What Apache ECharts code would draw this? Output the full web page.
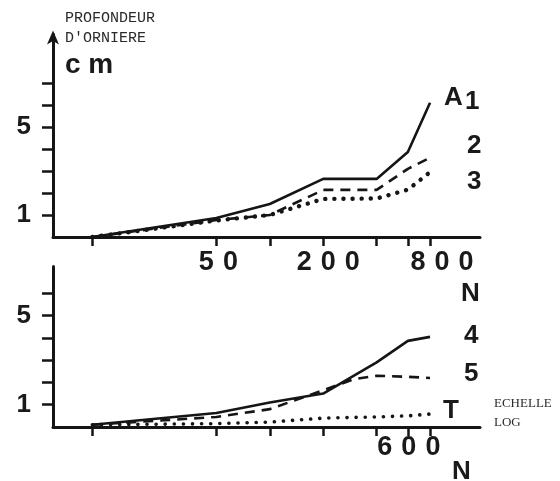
<!DOCTYPE html>
<html>
<head>
<meta charset="utf-8">
<script src="https://cdn.jsdelivr.net/npm/echarts@6/dist/echarts.min.js"></script>
<style>
html,body{margin:0;padding:0;background:#fff;}
#c{width:560px;height:481px;}
</style>
</head>
<body>
<div id="c"></div>
<script>
// ---- data ----
var nTop = [10, 50, 100, 200, 400, 600, 800];
var serieA1 = [0, 0.86, 1.5, 2.64, 2.64, 3.86, 6.1];
var serie2 = [0, 0.77, 1.0, 2.14, 2.14, 3.1, 3.6];
var serie3 = [0, 0.75, 1.0, 1.73, 1.75, 2.15, 2.95];

var nBot4 = [10, 50, 100, 200, 400, 600, 800];
var serie4 = [0.1, 0.63, 1.1, 1.5, 2.9, 3.86, 4.04];
var nBot5 = [10, 50, 100, 200, 300, 400, 600, 800];
var serie5 = [0.1, 0.45, 0.8, 1.65, 2.15, 2.3, 2.25, 2.2];
var nBotT = [10, 50, 100, 200, 400, 600, 800];
var serieT = [0.1, 0.15, 0.22, 0.4, 0.45, 0.5, 0.58];

var topXLabels = [50, 200, 800];
var botXLabels = [600];
var xTicks = [10, 50, 100, 200, 400, 600, 800];
var topYTicks = [1, 2, 3, 4, 5, 6, 7];
var botYTicks = [1, 2, 3, 4, 5, 6];
var yLabels = [1, 5];

function pairs(xs, ys) { return xs.map(function (x, i) { return [x, ys[i]]; }); }

var INK = '#151515';
var numFont = { fontFamily: 'Liberation Sans', fontWeight: 'bold', fontSize: 27, color: '#1a1a1a' };
var SP = '\u2004';

function xAxisDef(gridIndex, labels, margin) {
  return {
    type: 'log', gridIndex: gridIndex, min: 6, max: 1530,
    axisLine: { show: true, onZero: false, lineStyle: { color: INK, width: 3 } },
    axisTick: { show: true, customValues: xTicks, length: 9, lineStyle: { color: INK, width: 2.5 } },
    axisLabel: {
      show: true, customValues: labels, margin: margin,
      formatter: function (v) {
        var k = v < 100 ? 'a' : (v < 500 ? 'b' : (v === 600 ? 'd' : 'c'));
        return '{' + k + '|' + String(v).split('').join(SP) + '}';
      },
      rich: {
        a: Object.assign({ padding: [0, 0, 0, 4] }, numFont),
        b: Object.assign({ padding: [0, 0, 0, 10] }, numFont),
        c: Object.assign({ padding: [0, 0, 0, 24] }, numFont),
        d: Object.assign({ padding: [0, 0, 0, 2] }, numFont)
      }
    },
    splitLine: { show: false }
  };
}
function yAxisDef(gridIndex, max, ticks, arrow) {
  return {
    type: 'value', gridIndex: gridIndex, min: 0, max: max,
    axisLine: { show: true, lineStyle: { color: INK, width: 3 },
      symbol: arrow ? ['none', 'arrow'] : ['none', 'none'], symbolSize: [9, 14], symbolOffset: [0, 4] },
    axisTick: { show: true, customValues: ticks, length: 11, lineStyle: { color: INK, width: 2.5 } },
    axisLabel: Object.assign({ show: true, customValues: yLabels, margin: 22 }, numFont, { fontSize: 26 }),
    splitLine: { show: false }
  };
}

var solid = { color: INK, width: 2.6, type: 'solid' };
var dashed = { color: INK, width: 2.6, type: [10, 7] };
var dotted = { color: INK, width: 4.4, type: [0.1, 9], cap: 'round' };
var dottedSmall = { color: INK, width: 3.6, type: [0.1, 9], cap: 'round' };

function lineSeries(name, xi, data, style) {
  return { name: name, type: 'line', xAxisIndex: xi, yAxisIndex: xi, data: data,
    showSymbol: false, lineStyle: style, silent: true, animation: false };
}

var T = function (txt, x, y, style) {
  return { type: 'text', left: x, top: y, style: Object.assign({ text: txt, fill: '#1a1a1a' }, style) };
};
var big = { font: 'bold 26px "Liberation Sans"' };
var serif = { font: '15px "Liberation Mono"', fill: '#2a2a2a' };
var serifSm = { font: '13px "Liberation Serif"', fill: '#2a2a2a' };

var chart = echarts.init(document.getElementById('c'), null, { renderer: 'canvas' });
chart.setOption({
  backgroundColor: '#ffffff',
  animation: false,
  grid: [
    { left: 53, right: 80, top: 34.6, bottom: 244 },
    { left: 53, right: 80, top: 266.4, bottom: 54 }
  ],
  xAxis: [xAxisDef(0, topXLabels, 12), xAxisDef(1, botXLabels, 7)],
  yAxis: [yAxisDef(0, 9.2, topYTicks, true), yAxisDef(1, 7.2, botYTicks, false)],
  series: [
    lineSeries('A1', 0, pairs(nTop, serieA1), solid),
    lineSeries('2', 0, pairs(nTop, serie2), dashed),
    lineSeries('3', 0, pairs(nTop, serie3), dotted),
    lineSeries('4', 1, pairs(nBot4, serie4), solid),
    lineSeries('5', 1, pairs(nBot5, serie5), dashed),
    lineSeries('T', 1, pairs(nBotT, serieT), dottedSmall)
  ],
  graphic: [
    T('PROFONDEUR', 65, 11, serif),
    T("D'ORNIERE", 65, 31, serif),
    T('c m', 65, 51, { font: 'bold 28px "Liberation Sans"' }),
    T('A', 444, 85, big),
    T('1', 465, 89, big),
    T('2', 467, 133, big),
    T('3', 467, 169, big),
    T('N', 461, 281, big),
    T('4', 464, 323, big),
    T('5', 464, 361, big),
    T('T', 443, 398, big),
    T('N', 452, 459, big),
    T('ECHELLE', 494, 397, serifSm),
    T('LOG', 494, 416, serifSm)
  ]
});
</script>
</body>
</html>
